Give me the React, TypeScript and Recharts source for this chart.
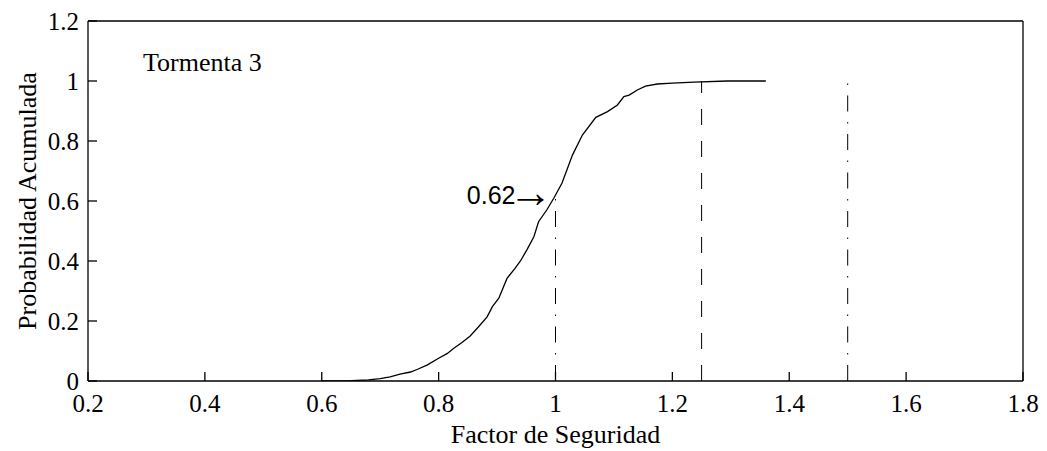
import React from 'react';
import {
  LineChart,
  Line,
  XAxis,
  YAxis,
  ReferenceLine,
  ReferenceDot,
} from 'recharts';

// Factor de seguridad vs probabilidad acumulada (Tormenta 3)
const factor = [
  0.6, 0.65, 0.68, 0.7, 0.717, 0.734, 0.752, 0.765, 0.78, 0.8, 0.815, 0.826,
  0.84, 0.854, 0.868, 0.883, 0.892, 0.903, 0.917, 0.931, 0.94, 0.951, 0.963,
  0.971, 0.985, 0.997, 1.011, 1.029, 1.046, 1.069, 1.089, 1.106, 1.117, 1.126,
  1.14, 1.154, 1.174, 1.2, 1.237, 1.294, 1.36,
];
const probabilidad = [
  0.0, 0.001, 0.004, 0.008, 0.014, 0.023, 0.03, 0.04, 0.053, 0.076, 0.092, 0.109,
  0.128, 0.15, 0.18, 0.214, 0.248, 0.276, 0.342, 0.376, 0.4, 0.437, 0.481,
  0.531, 0.57, 0.609, 0.659, 0.753, 0.82, 0.879, 0.898, 0.92, 0.948, 0.953,
  0.97, 0.983, 0.99, 0.993, 0.996, 1.0, 1.0,
];

const xTicks = [0.2, 0.4, 0.6, 0.8, 1, 1.2, 1.4, 1.6, 1.8];
const yTicks = [0, 0.2, 0.4, 0.6, 0.8, 1, 1.2];

// vertical marker lines: x position, top value, dash style
const markerX = [1, 1.25, 1.5];
const markerTop = [0.62, 1.0, 1.0];
const markerDash = ['16 10.5 1.5 10.5', '16 16', '16 10.5 1.5 10.5'];

const annotationX = 1;
const annotationY = 0.62;
const annotationValue = '0.62';

const data = factor.map((f, i) => ({ f, p: probabilidad[i] }));

const serif = '"Liberation Serif", "Times New Roman", serif';
const sans = '"Liberation Sans", Arial, sans-serif';
const tickStyle = { fill: '#000', fontSize: 25, fontFamily: serif };

const YLabel = (props: any) => {
  const vb = props.viewBox || {};
  const cy = vb.y + vb.height / 2;
  const bx = 36;
  return (
    <text
      x={bx}
      y={cy}
      transform={`rotate(-90, ${bx}, ${cy})`}
      textAnchor="middle"
      fill="#000"
      fontSize={26}
      fontFamily={serif}
    >
      Probabilidad Acumulada
    </text>
  );
};

const ArrowLabel = (props: any) => {
  const vb = props.viewBox || {};
  const cx = vb.x + (vb.width || 0) / 2;
  const cy = vb.y + (vb.height || 0) / 2;
  return (
    <text x={cx - 3} y={cy + 9} textAnchor="end" fill="#000" fontSize={25} fontFamily={sans}>
      {annotationValue}
      <tspan fontSize={44} dx={-7} dy={3}>{'\u2192'}</tspan>
    </text>
  );
};

export default function App() {
  return (
    <div style={{ position: 'absolute', left: 0, top: 0, width: 1047, height: 451, background: '#fff' }}>
      <LineChart
        width={1047}
        height={451}
        data={data}
        margin={{ top: 0, right: 0, bottom: 0, left: 0 }}
      >
        <XAxis
          xAxisId="bottom"
          dataKey="f"
          type="number"
          domain={[0.2, 1.8]}
          allowDataOverflow
          ticks={xTicks}
          height={70}
          tickSize={-9}
          tickMargin={22}
          stroke="#000"
          strokeWidth={1.3}
          tick={tickStyle}
          label={{
            value: 'Factor de Seguridad',
            position: 'insideBottom',
            offset: 8,
            fill: '#000',
            fontSize: 26,
            fontFamily: serif,
          }}
        />
        <XAxis
          xAxisId="top"
          orientation="top"
          type="number"
          domain={[0.2, 1.8]}
          allowDataOverflow
          ticks={xTicks}
          height={21}
          tickSize={-9}
          tick={false}
          stroke="#000"
          strokeWidth={1.3}
        />
        <YAxis
          yAxisId="left"
          type="number"
          domain={[0, 1.2]}
          allowDataOverflow
          ticks={yTicks}
          width={88}
          tickSize={-9}
          tickMargin={18}
          stroke="#000"
          strokeWidth={1.3}
          tick={tickStyle}
          label={<YLabel />}
        />
        <YAxis
          yAxisId="right"
          orientation="right"
          type="number"
          domain={[0, 1.2]}
          allowDataOverflow
          ticks={yTicks}
          width={24}
          tickSize={-9}
          tick={false}
          stroke="#000"
          strokeWidth={1.3}
        />
        {markerX.map((mx, i) => (
          <ReferenceLine
            key={mx}
            xAxisId="bottom"
            yAxisId="left"
            segment={[
              { x: mx, y: 0 },
              { x: mx, y: markerTop[i] },
            ]}
            stroke="#000"
            strokeWidth={1}
            strokeDasharray={markerDash[i]}
          />
        ))}
        <Line
          xAxisId="bottom"
          yAxisId="left"
          type="linear"
          dataKey="p"
          stroke="#000"
          strokeWidth={1.3}
          dot={false}
          isAnimationActive={false}
        />
        <ReferenceDot
          xAxisId="bottom"
          yAxisId="left"
          x={annotationX}
          y={annotationY}
          r={0}
          fill="none"
          stroke="none"
          label={<ArrowLabel />}
        />
      </LineChart>
      <div
        style={{
          position: 'absolute',
          left: 143,
          top: 50,
          fontFamily: serif,
          fontSize: 26,
          lineHeight: '26px',
          color: '#000',
          whiteSpace: 'nowrap',
        }}
      >
        Tormenta 3
      </div>
    </div>
  );
}
